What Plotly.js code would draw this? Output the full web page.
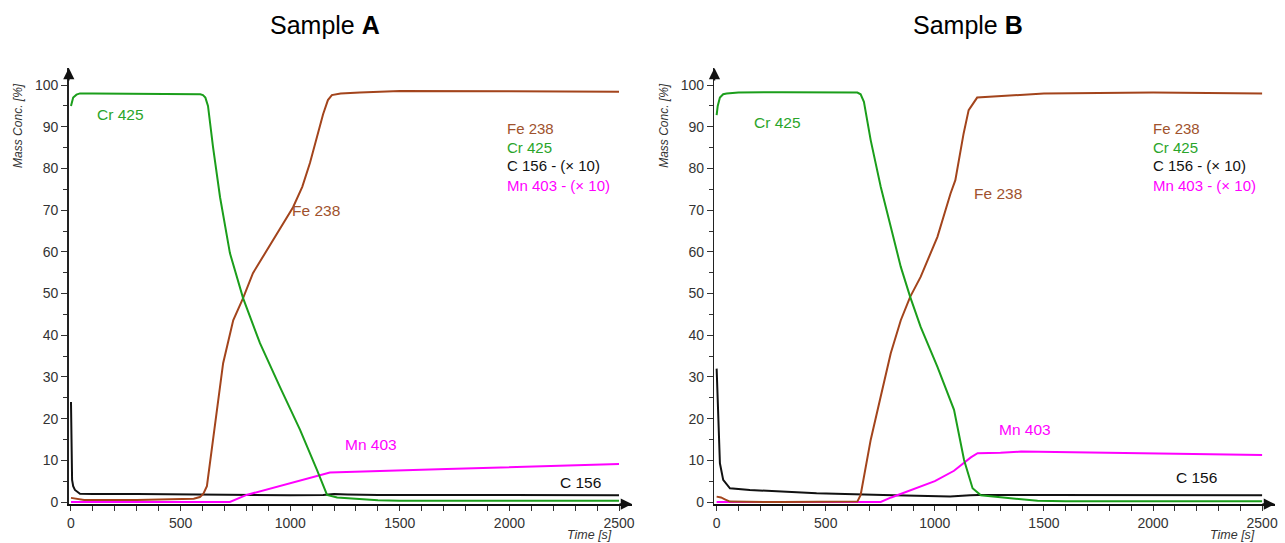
<!DOCTYPE html>
<html>
<head>
<meta charset="utf-8">
<script src="https://cdn.plot.ly/plotly-3.0.1.min.js"></script>
<style>html,body{margin:0;padding:0;background:#fff;}#chart{width:1285px;height:543px;}</style>
</head>
<body>
<div id="chart"></div>
<script>
// ---------- Sample A ----------
const timeA_Cr = [0, 10, 25, 41, 100, 300, 500, 590, 602, 613, 625, 648, 680, 725, 785, 862, 953, 1045, 1122, 1168, 1214, 1300, 1400, 1500, 2000, 2500];
const crA      = [95, 97, 97.7, 98, 98, 97.9, 97.9, 97.8, 97.6, 97.0, 95.0, 85.1, 73.1, 59.7, 48.9, 38.1, 27.6, 17.3, 7.7, 1.7, 1.1, 0.7, 0.4, 0.3, 0.3, 0.3];
const timeA_Fe = [0, 30, 60, 300, 560, 588, 604, 620, 648, 694, 740, 785, 830, 922, 1013, 1055, 1090, 1150, 1172, 1190, 1230, 1318, 1500, 2000, 2500];
const feA      = [1.0, 0.8, 0.5, 0.5, 0.8, 1.2, 2.0, 3.8, 14.9, 33.3, 43.6, 48.9, 54.9, 62.8, 70.7, 75.6, 81.3, 93.0, 96.4, 97.6, 98.0, 98.2, 98.6, 98.5, 98.4];
const timeA_Mn = [0, 725, 801, 1136, 1181, 1714, 2500];
const mnA      = [0, 0, 1.7, 6.5, 7.1, 7.9, 9.1];
const timeA_C  = [0, 2, 5, 10, 18, 41, 100, 300, 500, 700, 1000, 1150, 1200, 1260, 1400, 2000, 2500];
const cA       = [24, 12, 5.3, 3.8, 2.9, 2.0, 1.9, 1.9, 1.8, 1.6, 1.6, 1.7, 1.9, 1.8, 1.7, 1.7, 1.6];

// ---------- Sample B ----------
const timeB_Cr = [0, 5, 15, 30, 46, 100, 300, 600, 645, 660, 675, 706, 752, 798, 844, 887, 935, 1012, 1088, 1134, 1173, 1211, 1300, 1400, 1471, 1600, 2000, 2500];
const crB      = [92.8, 95, 97, 97.8, 98, 98.2, 98.3, 98.3, 98.2, 97.8, 96.0, 86.8, 75.6, 66.0, 56.4, 49.2, 42.0, 32.4, 22.1, 10.1, 3.3, 1.6, 1.2, 0.6, 0.3, 0.2, 0.2, 0.2];
const timeB_Fe = [0, 20, 40, 61, 300, 645, 660, 706, 752, 798, 844, 887, 935, 1012, 1072, 1094, 1132, 1155, 1194, 1301, 1500, 2000, 2500];
const feB      = [1.3, 1.1, 0.6, 0.1, 0, 0.1, 1.7, 14.9, 25.3, 35.7, 43.6, 49.2, 54.0, 63.6, 74.0, 77.2, 88.4, 94.0, 97.0, 97.4, 98.0, 98.2, 98.0];
const timeB_Mn = [0, 752, 800, 920, 1000, 1088, 1165, 1196, 1301, 1395, 2006, 2500];
const mnB      = [0, 0, 1.1, 3.5, 5.0, 7.5, 10.7, 11.7, 11.8, 12.1, 11.7, 11.3];
const timeB_C  = [0, 3, 7, 15, 30, 61, 152, 458, 763, 1070, 1162, 1200, 1500, 2000, 2500];
const cB       = [32, 27, 21.3, 9.3, 5.3, 3.3, 2.9, 2.1, 1.7, 1.3, 1.6, 1.7, 1.7, 1.7, 1.6];

const legendLabels = ['Fe 238', 'Cr 425', 'C 156 - (\u00d7 10)', 'Mn 403 - (\u00d7 10)'];
const xTicks = [0, 500, 1000, 1500, 2000, 2500];
const yTicks = [0, 10, 20, 30, 40, 50, 60, 70, 80, 90, 100];

const COL = {fe: '#a3441c', cr: '#1b9e1b', c: '#111111', mn: '#ff00ff'};
const TXT = {fe: '#a0522d', cr: '#2aa52a', c: '#111111', mn: '#ff00ff'};
const FONT = 'Liberation Sans, Arial, sans-serif';

function tr(x, y, color, xa, ya) {
  return {x: x, y: y, type: 'scatter', mode: 'lines', xaxis: xa, yaxis: ya,
          line: {color: color, width: 2}, hoverinfo: 'skip', showlegend: false};
}

const data = [
  tr(timeA_C, cA, COL.c, 'x', 'y'),
  tr(timeA_Mn, mnA, COL.mn, 'x', 'y'),
  tr(timeA_Fe, feA, COL.fe, 'x', 'y'),
  tr(timeA_Cr, crA, COL.cr, 'x', 'y'),
  tr(timeB_C, cB, COL.c, 'x2', 'y2'),
  tr(timeB_Mn, mnB, COL.mn, 'x2', 'y2'),
  tr(timeB_Fe, feB, COL.fe, 'x2', 'y2'),
  tr(timeB_Cr, crB, COL.cr, 'x2', 'y2')
];

function xax(domain, anchor) {
  return {domain: domain, anchor: anchor, range: [-10, 2559], showgrid: false, zeroline: false,
    showline: true, linecolor: '#111', linewidth: 1.6, ticks: 'outside', ticklen: 5, tickwidth: 1, tickcolor: '#333',
    tickvals: xTicks, ticktext: xTicks.map(String), tickfont: {family: FONT, size: 14, color: '#333'},
    minor: {dtick: 100, tick0: 0, ticks: 'outside', ticklen: 5, tickwidth: 1, tickcolor: '#333', showgrid: false},
    layer: 'below traces', fixedrange: true};
}
function yax(domain, anchor) {
  return {domain: domain, anchor: anchor, range: [-0.5, 104.1], showgrid: false, zeroline: false,
    showline: true, linecolor: '#222', linewidth: 1.6, ticks: 'outside', ticklen: 6, tickwidth: 1, tickcolor: '#333',
    tickvals: yTicks, ticktext: yTicks.map(String), tickfont: {family: FONT, size: 14, color: '#333'},
    minor: {dtick: 5, tick0: 0, ticks: 'outside', ticklen: 4, tickwidth: 1, tickcolor: '#333', showgrid: false},
    layer: 'below traces', fixedrange: true};
}

const ydom = [0.0716, 0.8748];
const ann = [];
function txt(xr, yr, x, y, text, color, size, xanchor) {
  ann.push({xref: xr, yref: yr, x: x, y: y, text: text, showarrow: false,
            font: {family: FONT, size: size, color: color}, xanchor: xanchor || 'center', yanchor: 'middle'});
}
// titles
txt('paper', 'paper', 0.2529, 0.954, 'Sample <b>A</b>', '#000', 25);
txt('paper', 'paper', 0.7533, 0.954, 'Sample <b>B</b>', '#000', 25);
// axis titles
ann.push({xref: 'paper', yref: 'paper', x: 0.014, y: 0.77, text: '<i>Mass Conc. [%]</i>', showarrow: false, textangle: -90,
          font: {family: FONT, size: 12, color: '#333'}, xanchor: 'center', yanchor: 'middle'});
ann.push({xref: 'paper', yref: 'paper', x: 0.5167, y: 0.77, text: '<i>Mass Conc. [%]</i>', showarrow: false, textangle: -90,
          font: {family: FONT, size: 12, color: '#333'}, xanchor: 'center', yanchor: 'middle'});
txt('paper', 'paper', 0.459, 0.0147, '<i>Time [s]</i>', '#333', 12.5);
txt('paper', 'paper', 0.9595, 0.0147, '<i>Time [s]</i>', '#333', 12.5);
// in-chart labels A
txt('x', 'y', 228, 93.0, 'Cr 425', TXT.cr, 15.5);
txt('x', 'y', 1118, 70.0, 'Fe 238', TXT.fe, 15.5);
txt('x', 'y', 1369, 13.9, 'Mn 403', TXT.mn, 15.5);
txt('x', 'y', 2322, 4.8, 'C 156', TXT.c, 15.5);
// in-chart labels B
txt('x2', 'y2', 277, 91.1, 'Cr 425', TXT.cr, 15.5);
txt('x2', 'y2', 1290, 74.1, 'Fe 238', TXT.fe, 15.5);
txt('x2', 'y2', 1414, 17.5, 'Mn 403', TXT.mn, 15.5);
txt('x2', 'y2', 2199, 5.8, 'C 156', TXT.c, 15.5);
// legend blocks
const legCols = [TXT.fe, TXT.cr, TXT.c, TXT.mn];
const legY = [89.7, 85.1, 80.6, 76.0];
legendLabels.forEach((l, i) => {
  txt('x', 'y', 1980, legY[i], l, legCols[i], 15, 'left');
  txt('x2', 'y2', 1990, legY[i], l, legCols[i], 15, 'left');
});
// axis arrows
[['x', 'y'], ['x2', 'y2']].forEach(([xa, ya]) => {
  ann.push({xref: xa, yref: ya, x: -10, y: 104.1, ax: 0, ay: 14, axref: 'pixel', ayref: 'pixel', text: '',
            showarrow: true, arrowhead: 2, arrowsize: 1.4, arrowwidth: 1.6, arrowcolor: '#111'});
  ann.push({xref: xa, yref: ya, x: 2559, y: -0.5, ax: -14, ay: 0, axref: 'pixel', ayref: 'pixel', text: '',
            showarrow: true, arrowhead: 2, arrowsize: 1.4, arrowwidth: 1.6, arrowcolor: '#111'});
});

const layout = {
  width: 1285, height: 543,
  margin: {l: 0, r: 0, t: 0, b: 0},
  paper_bgcolor: '#fff', plot_bgcolor: 'rgba(0,0,0,0)',
  showlegend: false,
  font: {family: FONT},
  xaxis: xax([0.05354, 0.4918], 'y'),
  yaxis: yax(ydom, 'x'),
  xaxis2: xax([0.5560, 0.9922], 'y2'),
  yaxis2: yax(ydom, 'x2'),
  annotations: ann
};

Plotly.newPlot('chart', data, layout, {displayModeBar: false, staticPlot: true});
</script>
</body>
</html>
